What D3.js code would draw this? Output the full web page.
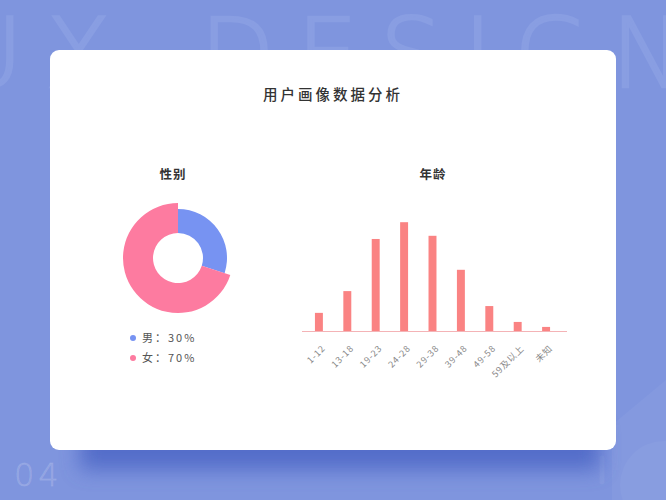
<!DOCTYPE html>
<html>
<head>
<meta charset="utf-8">
<script src="https://cdn.jsdelivr.net/npm/d3@7"></script>
<style>
html, body { margin: 0; padding: 0; background: #7f95de; }
svg { display: block; font-family: "Noto Sans CJK SC", "Noto Sans", sans-serif; }
</style>
</head>
<body>
<div id="body"></div>
<script>
//data
let genderNames = ['男', '女']
let genderValues = [30, 70]
let genderColors = ['#7793f2', '#fd7ba0']
let ageLabels = ['1-12', '13-18', '19-23', '24-28', '29-38', '39-48', '49-58', '59及以上', '未知']
let ageValues = [4, 8.8, 20.3, 24, 21, 13.5, 5.5, 2, 0.9]

let size = { width: 666, height: 500 }

let svg = d3.select('#body')
.append('svg')
.attr('width', size.width)
.attr('height', size.height)

let defs = svg.append('defs')
defs.append('filter').attr('id', 'blur')
.attr('x', '-20%').attr('y', '-50%').attr('width', '140%').attr('height', '200%')
.append('feGaussianBlur').attr('stdDeviation', 10)

//background
svg.append('rect')
.attr('width', size.width)
.attr('height', size.height)
.attr('fill', '#7f95de')

//big watermark words
let words = [['UX', -48], ['DESIGN', 200]]
svg.append('g')
.selectAll('text')
.data(words)
.join('text')
.attr('x', d => d[1])
.attr('y', 87)
.attr('font-family', '"DejaVu Sans", sans-serif')
.attr('font-weight', 200)
.attr('font-size', 97)
.attr('letter-spacing', 22)
.attr('fill', '#899ee2')
.attr('stroke', '#899ee2')
.attr('stroke-width', 2.5)
.text(d => d[0])

svg.append('path')
.attr('d', 'M612,425 L666,380 L666,500 L612,500 Z')
.attr('fill', 'rgba(255,255,255,0.04)')
svg.append('circle')
.attr('cx', 664).attr('cy', 485).attr('r', 44)
.attr('fill', 'rgba(255,255,255,0.04)')
svg.append('line')
.attr('x1', 602).attr('y1', 458).attr('x2', 602).attr('y2', 482)
.attr('stroke', 'rgba(255,255,255,0.06)')
.attr('stroke-width', 5)
.attr('stroke-linecap', 'round')

//card shadow + card
svg.append('rect')
.attr('x', 80).attr('y', 425).attr('width', 520).attr('height', 45)
.attr('fill', '#4a63c4')
.attr('opacity', 0.8)
.attr('filter', 'url(#blur)')

svg.append('text')
.attr('x', 14)
.attr('y', 486)
.attr('font-family', '"DejaVu Sans", sans-serif')
.attr('font-weight', 200)
.attr('font-size', 32)
.attr('letter-spacing', 4)
.attr('fill', 'rgba(255,255,255,0.13)')
.attr('stroke', 'rgba(255,255,255,0.13)')
.attr('stroke-width', 0.8)
.text('04')

svg.append('rect')
.attr('x', 50).attr('y', 50)
.attr('width', 566).attr('height', 400)
.attr('rx', 9)
.attr('fill', '#fff')

//title
svg.append('text')
.attr('x', 333).attr('y', 100)
.attr('text-anchor', 'middle')
.attr('font-size', 14.5)
.attr('font-weight', 500)
.attr('letter-spacing', 3)
.attr('fill', '#333')
.text('用户画像数据分析')

//gender donut
svg.append('text')
.attr('x', 173).attr('y', 179)
.attr('text-anchor', 'middle')
.attr('font-size', 12.5)
.attr('font-weight', 700)
.attr('letter-spacing', 1)
.attr('fill', '#333')
.text('性别')

let pie = d3.pie().sort(null).value(d => d)
let arcs = pie(genderValues)
let outerR = [49, 55]
let donut = svg.append('g').attr('transform', 'translate(178,258)')
donut.selectAll('path')
.data(arcs)
.join('path')
.attr('d', (d, i) => d3.arc().innerRadius(25).outerRadius(outerR[i])(d))
.attr('fill', (d, i) => genderColors[i])

let legend = svg.append('g')
.selectAll('g')
.data(genderNames)
.join('g')
.attr('transform', (d, i) => `translate(133,${338 + i * 20})`)
legend.append('circle')
.attr('r', 3)
.attr('fill', (d, i) => genderColors[i])
legend.append('text')
.attr('x', 9).attr('y', 4)
.attr('font-size', 11)
.attr('letter-spacing', 2)
.attr('fill', '#555')
.text((d, i) => `${d}：${genderValues[i]}%`)

//age bars
svg.append('text')
.attr('x', 433).attr('y', 179)
.attr('text-anchor', 'middle')
.attr('font-size', 12.5)
.attr('font-weight', 700)
.attr('letter-spacing', 1)
.attr('fill', '#333')
.text('年龄')

let xScale = d3.scaleBand()
.domain(ageLabels)
.range([305, 560])
.paddingInner(0.72)
.paddingOuter(0.35)
let yScale = d3.scaleLinear()
.domain([0, 30])
.range([331, 195])

svg.append('g')
.selectAll('rect')
.data(ageValues)
.join('rect')
.attr('x', (d, i) => xScale(ageLabels[i]))
.attr('y', d => yScale(d))
.attr('width', xScale.bandwidth())
.attr('height', d => yScale(0) - yScale(d))
.attr('fill', '#fa8383')

let xAxis = d3.axisBottom(xScale).tickSize(0).tickPadding(0)
let gX = svg.append('g')
.attr('transform', `translate(0,${yScale(0)})`)
.call(xAxis)
gX.select('.domain')
.attr('d', 'M302,0.5H567')
.attr('stroke', '#f4b3b6')
gX.selectAll('text')
.attr('font-family', '"Noto Sans CJK SC", sans-serif')
.attr('font-size', 9)
.attr('letter-spacing', 0.8)
.attr('fill', '#888')
.attr('text-anchor', 'end')
.attr('dy', 0)
.attr('y', 0)
.attr('transform', 'translate(7,18) rotate(-45)')
</script>
</body>
</html>
